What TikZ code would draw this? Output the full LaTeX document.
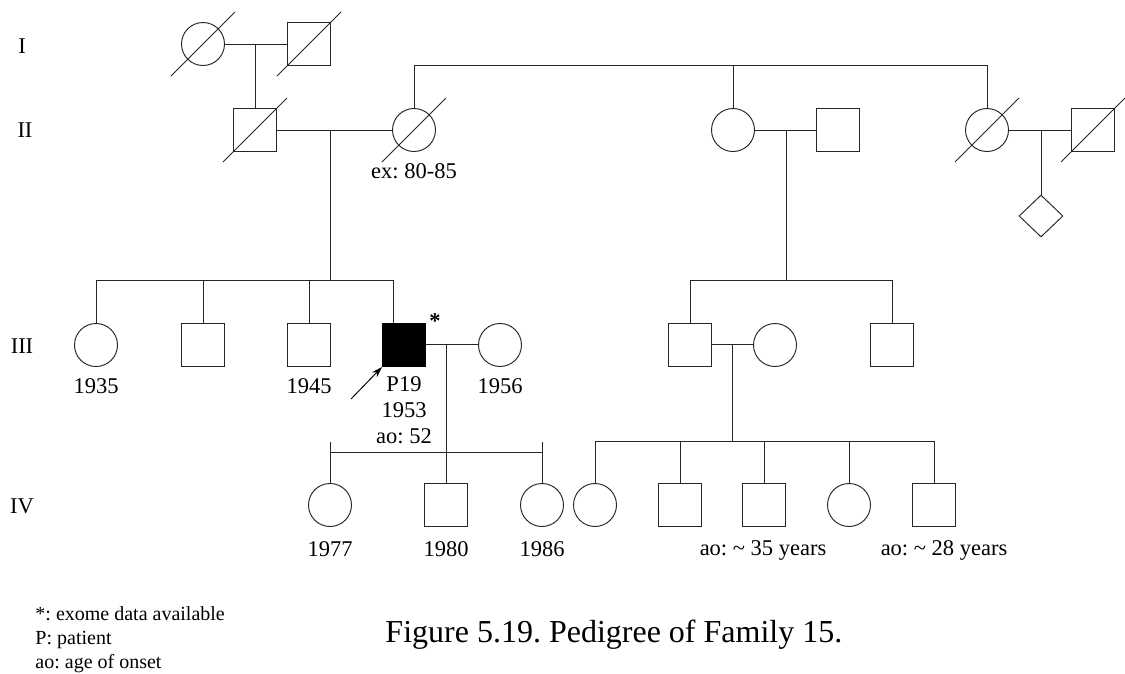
\documentclass[tikz,border=0pt]{standalone}
\usepackage{fontspec}
\setmainfont{Liberation Serif}
\usetikzlibrary{shapes.geometric,arrows.meta}
\frenchspacing
\begin{document}
\begin{tikzpicture}[x=1pt,y=-1pt,line width=0.95pt,draw=black!85,
  male/.style={draw,rectangle,minimum size=43pt,inner sep=0pt},
  female/.style={draw,circle,minimum size=43pt,inner sep=0pt},
  unknown/.style={draw,diamond,minimum width=44pt,minimum height=42pt,inner sep=0pt},
  affected/.style={fill=black,draw=black},
  lbl/.style={font=\fontsize{22.5}{26}\selectfont,inner sep=0pt,anchor=base},
  gen/.style={font=\fontsize{22.5}{26}\selectfont,inner sep=0pt,anchor=base},
  legend/.style={font=\fontsize{20}{24}\selectfont,inner sep=0pt,anchor=base west},
  caption/.style={font=\fontsize{32}{38}\selectfont,inner sep=0pt,anchor=base west},
  slash/.style={line width=0.9pt}]
\useasboundingbox (0,0) rectangle (1125,673);

% generation numbers
\node[gen] (gI)   at (22,53)  {I};
\node[gen] (gII)  at (25,137) {II};
\node[gen] (gIII) at (22,353) {III};
\node[gen] (gIV)  at (22,513) {IV};

% generation I
\node[female] (i1) at (203,44) {};
\node[male]   (i2) at (309,44) {};

% generation II
\node[male]    (ii1) at (255,130) {};
\node[female]  (ii2) at (414,130) {};
\node[female]  (ii3) at (733,130) {};
\node[male]    (ii4) at (838,130) {};
\node[female]  (ii5) at (987,130) {};
\node[male]    (ii6) at (1093,130) {};
\node[unknown] (ii7) at (1041,216) {};

% generation III
\node[female] (iii1) at (96,345) {};
\node[male]   (iii2) at (203,345) {};
\node[male]   (iii3) at (309,345) {};
\node[male,affected] (iii4) at (404,345) {};
\node[female] (iii5) at (500,345) {};
\node[male]   (iii6) at (690,345) {};
\node[female] (iii7) at (775,345) {};
\node[male]   (iii8) at (892,345) {};

% generation IV
\node[female] (iv1) at (330,505) {};
\node[male]   (iv2) at (446,505) {};
\node[female] (iv3) at (542,505) {};
\node[female] (iv4) at (595,505) {};
\node[male]   (iv5) at (680,505) {};
\node[male]   (iv6) at (764,505) {};
\node[female] (iv7) at (849,505) {};
\node[male]   (iv8) at (934,505) {};

% deceased marks
\foreach \n in {i1,i2,ii1,ii2,ii5,ii6}
  \draw[slash] ([shift={(-32,32)}]\n.center) -- ([shift={(32,-32)}]\n.center);

% I-1 x I-2
\coordinate (m1) at (255,44);
\draw (i1) -- (i2);
\draw (m1) -- (ii1);

% II-1 x II-2 and their children
\coordinate (m2) at (330,130);
\coordinate (m2b) at (330,280);
\coordinate (s1) at (96,280);
\coordinate (s2) at (203,280);
\coordinate (s3) at (309,280);
\coordinate (s4) at (393,280);
\draw (ii1) -- (ii2);
\draw (m2) -- (m2b);
\draw (s1) -- (s4);
\draw (s1) -- (iii1);
\draw (s2) -- (iii2);
\draw (s3) -- (iii3);
\draw (s4) -- (s4 |- iii4.north);

% sibship of II-2, II-3 and II-5
\coordinate (t1) at (414,65);
\coordinate (t2) at (733,65);
\coordinate (t3) at (987,65);
\draw (t1) -- (t3);
\draw (t1) -- (ii2);
\draw (t2) -- (ii3);
\draw (t3) -- (ii5);

% II-3 x II-4 and their children
\coordinate (m3) at (786,130);
\coordinate (m3b) at (786,280);
\coordinate (r1) at (690,280);
\coordinate (r2) at (892,280);
\draw (ii3) -- (ii4);
\draw (m3) -- (m3b);
\draw (r1) -- (r2);
\draw (r1) -- (iii6);
\draw (r2) -- (iii8);

% II-5 x II-6
\coordinate (m4) at (1041,130);
\draw (ii5) -- (ii6);
\draw (m4) -- (ii7);

% III-4 x III-5 and their children
\coordinate (m5) at (446,344);
\coordinate (m5b) at (446,452);
\coordinate (u1) at (330,452);
\coordinate (u3) at (542,452);
\coordinate (u1t) at (330,442);
\coordinate (u3t) at (542,442);
\draw (iii4.east |- m5) -- (iii5.west |- m5);
\draw (m5) -- (iv2);
\draw (u1) -- (u3);
\draw (u1t) -- (iv1);
\draw (u3t) -- (iv3);

% III-6 x III-7 and their children
\coordinate (m6) at (732,344);
\coordinate (m6b) at (732,441);
\coordinate (v1) at (595,441);
\coordinate (v2) at (680,441);
\coordinate (v3) at (764,441);
\coordinate (v4) at (849,441);
\coordinate (v5) at (934,441);
\draw (iii6.east |- m6) -- (iii7.west |- m6);
\draw (m6) -- (m6b);
\draw (v1) -- (v5);
\draw (v1) -- (iv4);
\draw (v2) -- (iv5);
\draw (v3) -- (iv6);
\draw (v4) -- (iv7);
\draw (v5) -- (iv8);

% proband arrow
\coordinate (pa) at (351,399);
\draw[draw=black,-{Stealth[length=11pt,width=7pt]}] (pa) -- (iii4.south west);

% labels
\node[lbl] (lex)   at (414,178) {ex: 80-85};
\node[lbl] (l1935) at (96,393)  {1935};
\node[lbl] (l1945) at (309,393) {1945};
\node[lbl] (lp19)  at (404,391) {P19};
\node[lbl] (l1953) at (404,417) {1953};
\node[lbl] (lao52) at (404,443) {ao: 52};
\node[lbl] (l1956) at (500,393) {1956};
\node[lbl] (lstar) at (435,328) {\textbf{*}};
\node[lbl] (l1977) at (330,556) {1977};
\node[lbl] (l1980) at (446,556) {1980};
\node[lbl] (l1986) at (542,556) {1986};
\node[lbl] (lao35) at (763,555) {ao: \textasciitilde\ 35 years};
\node[lbl] (lao28) at (944,555) {ao: \textasciitilde\ 28 years};

% legend and caption
\node[legend] (k1) at (35,620) {*: exome data available};
\node[legend] (k2) at (35,644) {P: patient};
\node[legend] (k3) at (35,668) {ao: age of onset};
\node[caption] (cap) at (385,642) {Figure 5.19. Pedigree of Family 15.};
\end{tikzpicture}
\end{document}
